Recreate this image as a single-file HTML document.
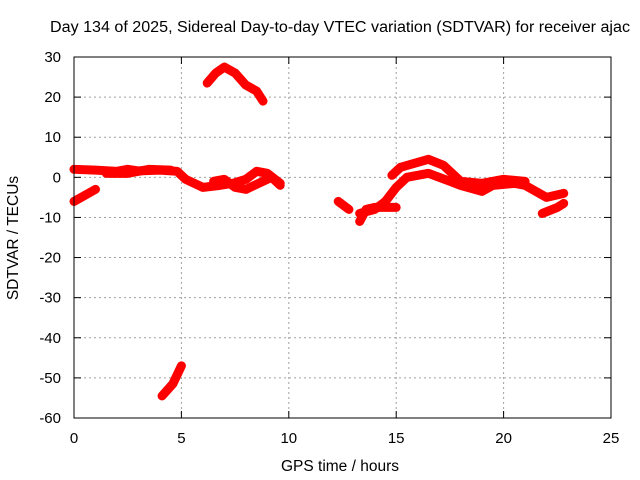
<!DOCTYPE html>
<html><head><meta charset="utf-8"><style>
body{margin:0;background:#fff}
svg{display:block;font-family:"Liberation Sans",sans-serif}
</style></head><body>
<svg width="640" height="480">
<text x="50" y="32" font-size="15.5" textLength="580" lengthAdjust="spacingAndGlyphs">Day 134 of 2025, Sidereal Day-to-day VTEC variation (SDTVAR) for receiver ajac</text>
<g id="grid"></g>
<g id="series"></g>
<rect x="74" y="57" width="537" height="361" fill="none" stroke="#000" stroke-width="1"/>
<g id="ticks"></g>
<text x="340" y="471" text-anchor="middle" font-size="15.5">GPS time / hours</text>
<text transform="translate(18,238) rotate(-90)" text-anchor="middle" font-size="15.5">SDTVAR / TECUs</text>
</svg>
<script>
const xTicks=[0,5,10,15,20,25];
const yTicks=[30,20,10,0,-10,-20,-30,-40,-50,-60];
const segMainA=[[0,2],[1,1.8],[2,1.5],[2.5,2],[3,1.6],[4,1.8],[4.8,1.5],[5.2,-0.5],[6,-2.5],[6.8,-2],[7.4,-1.5],[8,-0.5],[8.5,1.5],[9,1],[9.6,-1.5]];
const segMainB=[[1.5,1],[2.5,1],[3.5,2],[4.5,1.8]];
const segMainC=[[6.5,-1],[7,-0.5],[7.5,-2.5],[8,-3],[8.6,-1.5],[9.2,0],[9.6,-2]];
const segLeft=[[0,-6],[1,-3]];
const segArc=[[6.2,23.5],[6.6,26],[7,27.5],[7.5,26],[8,23],[8.5,21.5],[8.8,19]];
const segLow=[[4.1,-54.5],[4.6,-51.5],[5,-47]];
const segR1=[[12.3,-6],[12.8,-8]];
const segR2=[[13.3,-9],[14,-8],[14.5,-6],[15,-2.5],[15.5,0],[16.5,1],[17.5,-1],[18,-2],[19,-3.5],[19.5,-2],[20.5,-1.5],[21,-2],[22,-5],[22.8,-4]];
const segR3=[[14.8,0.5],[15.2,2.5],[16.5,4.5],[17.2,3],[18,-1],[19,-1.5],[20,-0.5],[21,-1]];
const segR4=[[13.3,-11],[13.6,-8],[14,-7.5],[15,-7.5]];
const segR5=[[21.8,-9],[22.5,-7.5],[22.8,-6.5]];
const allSegs=[segMainA,segMainB,segMainC,segLeft,segArc,segLow,segR1,segR2,segR3,segR4,segR5];
const X=h=>74+h*(537/25), Y=v=>57+(30-v)*(361/90);
const NS='http://www.w3.org/2000/svg';
const grid=document.getElementById('grid'),ticks=document.getElementById('ticks'),ser=document.getElementById('series');
function mk(tag,a,p){const e=document.createElementNS(NS,tag);for(const k in a)e.setAttribute(k,a[k]);p.appendChild(e);return e;}
xTicks.forEach(t=>{const x=X(t);
 if(t>0&&t<25){const l=mk('line',{x1:x,x2:x,y1:57,y2:418,stroke:'#a0a0a0','stroke-dasharray':'2,3'},grid);
 
 }
 mk('line',{x1:x,x2:x,y1:418,y2:411,stroke:'#000'},ticks);mk('line',{x1:x,x2:x,y1:57,y2:64,stroke:'#000'},ticks);
 const tx=mk('text',{x:x,y:443,'text-anchor':'middle','font-size':15},ticks);tx.textContent=t;
 
 });
yTicks.forEach(t=>{const y=Y(t);
 if(t<30&&t>-60){const l=mk('line',{x1:74,x2:611,y1:y,y2:y,stroke:'#a0a0a0','stroke-dasharray':'2,3'},grid);
 
 }
 mk('line',{x1:74,x2:81,y1:y,y2:y,stroke:'#000'},ticks);mk('line',{x1:604,x2:611,y1:y,y2:y,stroke:'#000'},ticks);
 const tx=mk('text',{x:61,y:y+5,'text-anchor':'end','font-size':15},ticks);tx.textContent=t;
 
 });
allSegs.forEach(s=>{const p=mk('polyline',{points:s.map(d=>X(d[0])+','+Y(d[1])).join(' '),fill:'none',stroke:'#ff0000','stroke-width':9,'stroke-linejoin':'round','stroke-linecap':'round'},ser);
 
 });
</script>
</body></html>
